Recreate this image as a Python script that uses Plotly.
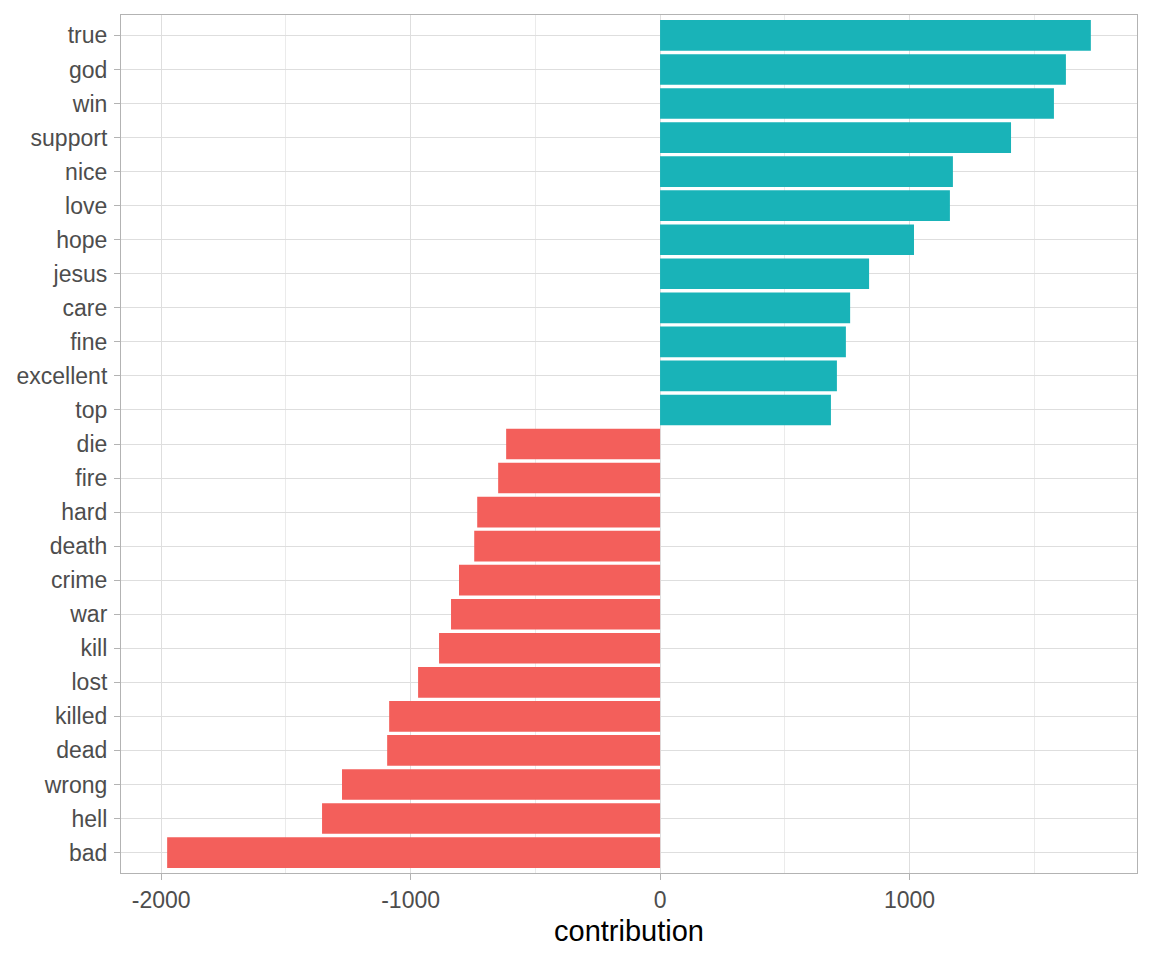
import plotly.graph_objects as go

words = ["bad", "hell", "wrong", "dead", "killed", "lost", "kill", "war", "crime",
         "death", "hard", "fire", "die", "top", "excellent", "fine", "care", "jesus",
         "hope", "love", "nice", "support", "win", "god", "true"]
contribution = [-1976, -1355, -1275, -1094, -1086, -970, -886, -838, -806,
                -745, -733, -649, -617, 685, 709, 745, 762, 838,
                1018, 1162, 1174, 1407, 1579, 1627, 1727]
x_ticks = [-2000, -1000, 0, 1000]
x_minor = [-1500, -500, 500, 1500]

pos_color = "#19B3B8"
neg_color = "#F35F5B"
colors = [pos_color if v > 0 else neg_color for v in contribution]

fig = go.Figure(go.Bar(
    x=contribution, y=words, orientation="h",
    marker=dict(color=colors, line=dict(width=0)),
    hoverinfo="x+y",
))

n = len(words)
fig.update_layout(
    width=1152, height=960,
    margin=dict(l=113, r=23, t=7, b=95),
    paper_bgcolor="white", plot_bgcolor="white",
    bargap=0.1,
    showlegend=False,
    font=dict(family="Liberation Sans, Arial, sans-serif", size=23, color="#4d4d4d"),
    xaxis=dict(
        range=[-2161, 1912],
        tickvals=x_ticks,
        ticktext=[str(v) for v in x_ticks],
        showgrid=True, gridcolor="#dedede", gridwidth=1.4,
        zeroline=False,
        ticks="outside", ticklen=6, tickcolor="#b3b3b3", tickwidth=1.2,
        showline=True, linecolor="#b3b3b3", linewidth=1.2, mirror=True,
        minor=dict(tickvals=x_minor, showgrid=True,
                   gridcolor="#ebebeb", gridwidth=0.7),
        title=dict(text="contribution", font=dict(size=29, color="black"), standoff=8),
        tickfont=dict(size=23, color="#4d4d4d"),
    ),
    yaxis=dict(
        categoryorder="array", categoryarray=words,
        range=[-0.6, n - 0.4],
        showgrid=True, gridcolor="#dedede", gridwidth=1.4,
        zeroline=False,
        ticks="outside", ticklen=6, tickcolor="#b3b3b3", tickwidth=1.2,
        showline=True, linecolor="#b3b3b3", linewidth=1.2, mirror=True,
        ticklabelstandoff=2,
        tickfont=dict(size=23, color="#4d4d4d"),
    ),
)

fig.write_html("out.html")
